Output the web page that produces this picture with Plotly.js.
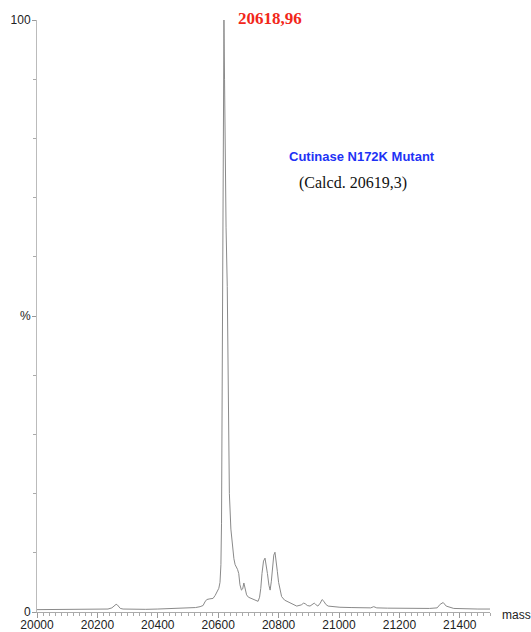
<!DOCTYPE html>
<html>
<head>
<meta charset="utf-8">
<script src="https://cdn.plot.ly/plotly-3.0.1.min.js"></script>
<style>html,body{margin:0;padding:0;background:#fff;}#chart{width:531px;height:632px;}</style>
</head>
<body>
<div id="chart"></div>
<script>
// Deconvoluted mass spectrum (mass, relative intensity %)
const mass = [20000,20050,20100,20150,20200,20235,20248,20256,20262,20266,20270,20276,20285,20320,20360,20400,20450,20500,20525,20540,20550,20556,20562,20570,20583,20590,20596,20602,20606,20609,20611,20613,20615,20617,20619,20621,20623,20626,20630,20634,20637,20642,20648,20652,20656,20660,20664,20668,20672,20677,20681,20685,20689,20694,20700,20710,20722,20732,20737,20741,20745,20750,20755,20759,20763,20768,20772,20776,20780,20784,20788,20792,20796,20800,20805,20810,20820,20838,20860,20875,20883,20888,20895,20904,20912,20918,20922,20930,20938,20944,20950,20956,20964,20980,21003,21040,21080,21105,21115,21125,21160,21200,21250,21300,21325,21335,21345,21355,21380,21420,21460,21500];
const intensity = [0.4,0.4,0.4,0.4,0.45,0.5,0.7,1.0,1.3,1.2,0.9,0.6,0.5,0.45,0.45,0.5,0.55,0.6,0.75,0.9,1.1,1.7,2.1,2.2,2.3,2.8,3.3,4.0,5.0,8,15,40,66,82,100,90,78,65,55,32,20,14,10.5,9.0,8.0,7.6,7.2,6.5,4.6,3.7,3.9,4.9,3.8,2.9,2.5,2.3,2.0,1.8,2.5,4.0,6.5,8.6,9.1,8.0,6.5,4.5,3.7,5.2,8.2,9.6,10.1,8.8,6.8,5.0,3.6,2.6,2.0,1.5,1.0,1.2,1.5,1.4,1.1,1.0,1.3,1.5,1.3,1.0,1.5,2.1,1.8,1.3,1.0,0.9,0.8,0.75,0.7,0.7,0.9,0.7,0.65,0.6,0.6,0.6,0.7,1.3,1.6,1.0,0.6,0.5,0.5,0.5];

const yTickVals = [0, 50, 100];
const yTickText = ['0', '%', '100'];
const xTickVals = [20000,20200,20400,20600,20800,21000,21200,21400];

const peakLabel = '20618,96';
const titleLine1 = 'Cutinase N172K Mutant';
const titleLine2 = '(Calcd. 20619,3)';

const trace = {
  x: mass, y: intensity, type: 'scatter', mode: 'lines',
  line: {color: '#8a8a8a', width: 1}, hoverinfo: 'skip'
};

const layout = {
  width: 531, height: 632,
  margin: {l: 37, r: 41, t: 20, b: 20},
  paper_bgcolor: '#fff', plot_bgcolor: '#fff',
  showlegend: false,
  font: {family: 'Liberation Sans, Arial, sans-serif', size: 12, color: '#222'},
  xaxis: {
    range: [20000, 21500], showgrid: false, zeroline: false,
    showline: true, linecolor: '#aaaaaa', linewidth: 1,
    tickmode: 'array', tickvals: xTickVals, ticktext: xTickVals.map(String),
    ticks: 'outside', ticklen: 5, tickcolor: '#999', tickwidth: 1,
    ticklabelstandoff: -3,
    minor: {dtick: 20, tick0: 20000, ticks: 'outside', ticklen: 3, tickcolor: '#aaa', showgrid: false},
    tickfont: {size: 12, color: '#222'}
  },
  yaxis: {
    range: [0, 100], showgrid: false, zeroline: false,
    showline: true, linecolor: '#bbbbbb', linewidth: 1,
    tickmode: 'array', tickvals: yTickVals, ticktext: yTickText,
    ticks: 'outside', ticklen: 4, tickcolor: '#999', tickwidth: 1,
    ticklabelstandoff: -1,
    minor: {dtick: 10, tick0: 0, ticks: 'outside', ticklen: 3, tickcolor: '#aaa', showgrid: false},
    tickfont: {size: 12, color: '#222'}
  },
  annotations: [
    {x: 20659, y: 1.003, xref: 'x', yref: 'paper', text: '<b>' + peakLabel + '</b>', showarrow: false,
     xanchor: 'left', yanchor: 'middle',
     font: {family: 'Liberation Serif, Times New Roman, serif', size: 17, color: '#f2271a'}},
    {x: 21076, y: 76.9, xref: 'x', yref: 'y', text: '<b>' + titleLine1 + '</b>', showarrow: false,
     xanchor: 'center', yanchor: 'middle',
     font: {family: 'Liberation Sans, Arial, sans-serif', size: 13, color: '#1e32f5'}},
    {x: 21045, y: 72.5, xref: 'x', yref: 'y', text: titleLine2, showarrow: false,
     xanchor: 'center', yanchor: 'middle',
     font: {family: 'Liberation Serif, Times New Roman, serif', size: 16, color: '#111'}},
    {x: 1, y: 0, xref: 'paper', yref: 'paper', text: 'mass', showarrow: false,
     xanchor: 'left', yanchor: 'middle', xshift: 10, yshift: -3,
     font: {family: 'Liberation Sans, Arial, sans-serif', size: 12, color: '#222'}}
  ]
};

Plotly.newPlot('chart', [trace], layout, {displayModeBar: false, staticPlot: true});
</script>
</body>
</html>
